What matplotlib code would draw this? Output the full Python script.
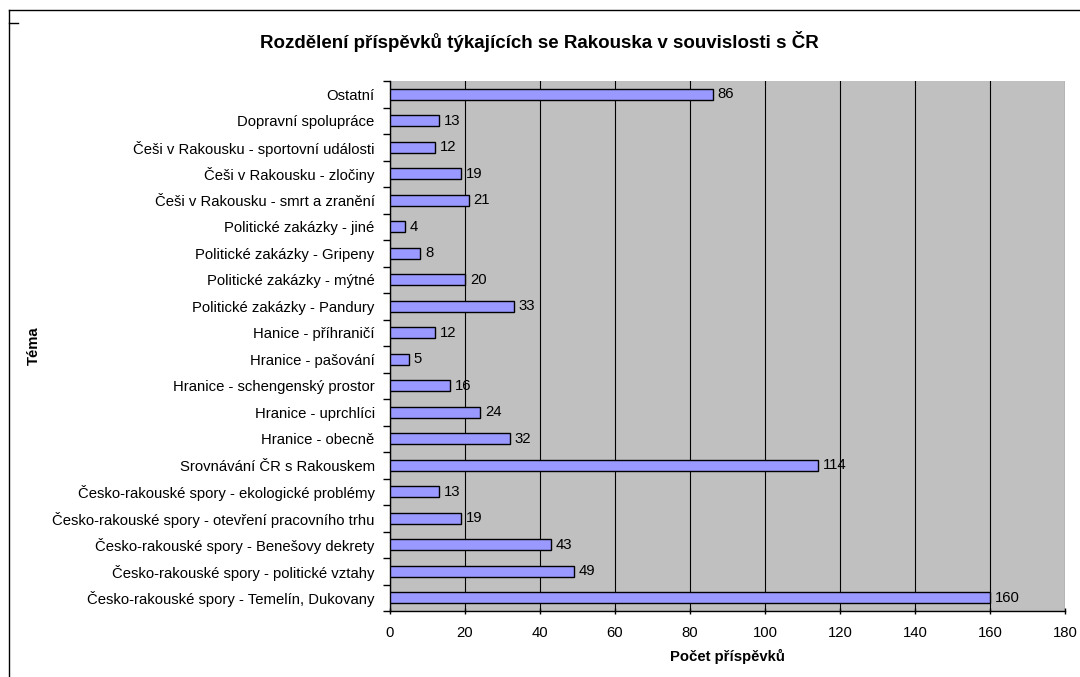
import matplotlib
matplotlib.use("Agg")
import matplotlib.pyplot as plt
from matplotlib.lines import Line2D

plt.rcParams['font.family'] = ['Liberation Sans', 'DejaVu Sans']

categories = [
    "Česko-rakouské spory - Temelín, Dukovany",
    "Česko-rakouské spory - politické vztahy",
    "Česko-rakouské spory - Benešovy dekrety",
    "Česko-rakouské spory - otevření pracovního trhu",
    "Česko-rakouské spory - ekologické problémy",
    "Srovnávání ČR s Rakouskem",
    "Hranice - obecně",
    "Hranice - uprchlíci",
    "Hranice - schengenský prostor",
    "Hranice - pašování",
    "Hanice - příhraničí",
    "Politické zakázky - Pandury",
    "Politické zakázky - mýtné",
    "Politické zakázky - Gripeny",
    "Politické zakázky - jiné",
    "Češi v Rakousku - smrt a zranění",
    "Češi v Rakousku - zločiny",
    "Češi v Rakousku - sportovní události",
    "Dopravní spolupráce",
    "Ostatní",
]
values = [160, 49, 43, 19, 13, 114, 32, 24, 16, 5, 12, 33, 20, 8, 4, 21, 19, 12, 13, 86]
x_ticks = [0, 20, 40, 60, 80, 100, 120, 140, 160, 180]

FS = 10.7

fig = plt.figure(figsize=(10.8, 6.77), dpi=100)
ax = fig.add_axes([390/1080, 1 - 611/677, 675/1080, 530/677])
ax.set_facecolor('#C0C0C0')

ypos = list(range(len(categories)))
ax.barh(ypos, values, height=0.4, color='#9999FF', edgecolor='black', linewidth=1.0, zorder=3)
for y, v in zip(ypos, values):
    ax.text(v + 1.3, y, str(v), va='center', ha='left', fontsize=FS, zorder=4)

ax.set_xlim(0, 180)
ax.set_ylim(-0.5, len(categories) - 0.5)
ax.set_xticks(x_ticks)
ax.set_xticklabels([str(t) for t in x_ticks], fontsize=FS)
ax.set_yticks(ypos)
ax.set_yticklabels(categories, fontsize=FS)
ax.tick_params(axis='y', length=0, pad=11)
ax.set_yticks([y - 0.5 for y in ypos] + [len(categories) - 0.5], minor=True)
ax.tick_params(axis='y', which='minor', length=5, direction='out', width=1)
ax.tick_params(axis='x', length=5, direction='inout', width=1, pad=8)
ax.grid(axis='x', color='black', linewidth=0.8, zorder=1)

for side in ['top', 'right']:
    ax.spines[side].set_visible(False)
for side in ['left', 'bottom']:
    ax.spines[side].set_linewidth(1.0)

ax.set_xlabel('Počet příspěvků', fontsize=FS, fontweight='bold', labelpad=7)
ax.set_ylabel('Téma', fontsize=FS, fontweight='bold')
ax.yaxis.set_label_coords(-(390 - 41) / 675, 0.5)

fig.text(539/1080, 1 - 41/677, 'Rozdělení příspěvků týkajících se Rakouska v souvislosti s ČR',
         ha='center', va='center', fontsize=13.5, fontweight='bold')

# outer chart frame (partially visible)
fig.add_artist(Line2D([9/1080, 9/1080], [0, 1 - 10/677], transform=fig.transFigure, color='black', linewidth=1))
fig.add_artist(Line2D([9/1080, 1], [1 - 10/677, 1 - 10/677], transform=fig.transFigure, color='black', linewidth=1))
fig.add_artist(Line2D([9/1080, 18/1080], [1 - 23/677, 1 - 23/677], transform=fig.transFigure, color='black', linewidth=1))

fig.savefig('out.png', dpi=100)
